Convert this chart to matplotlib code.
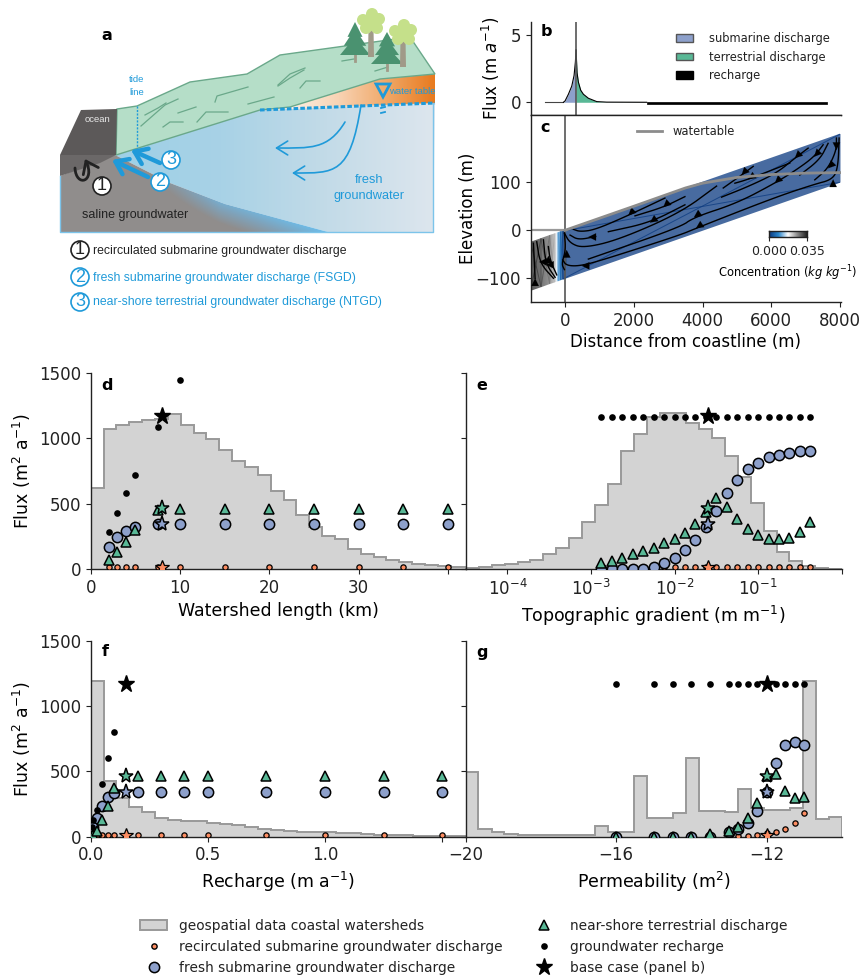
# -*- coding: utf-8 -*-
import numpy as np
import matplotlib
matplotlib.use("Agg")
import matplotlib.pyplot as plt
from matplotlib.colors import LinearSegmentedColormap
from matplotlib.lines import Line2D
from matplotlib.patches import Circle, FancyArrowPatch, Patch, PathPatch, Polygon
from matplotlib.path import Path

W, H = 862, 976
BLUE, GREEN, ORANGE = "#8da0cb", "#59b896", "#fc8d62"
SKY = "#1f9ad9"
SCHEME_FONT = ["Liberation Sans", "DejaVu Sans"]

plt.rcParams["font.size"] = 12
plt.rcParams["axes.linewidth"] = 1.0
plt.rcParams["axes.edgecolor"] = "#222222"
plt.rcParams["text.color"] = "#222222"
plt.rcParams["xtick.color"] = "#222222"
plt.rcParams["ytick.color"] = "#222222"
plt.rcParams["mathtext.default"] = "regular"

# ---- histograms of the coastal watersheds
d_edges = [0, 1.44, 2.88, 4.32, 5.76, 7.2, 8.64, 10.08, 11.52, 12.96, 14.4, 15.84, 17.28, 18.72, 20.16,
           21.6, 23.04, 24.48, 25.92, 27.36, 28.8, 30.24, 31.68, 33.12, 34.56, 36.0, 37.44, 38.88, 40.32, 42]
d_hist = [618, 1071, 1099, 1122, 1142, 1150, 1186, 1104, 1040, 994, 912, 823, 779, 721, 598,
          529, 414, 325, 256, 227, 151, 115, 89, 66, 51, 41, 33, 26, 13]

e_log_edges = [-4.5, -4.345, -4.19, -4.035, -3.88, -3.725, -3.57, -3.415, -3.26, -3.105, -2.95, -2.795,
               -2.64, -2.485, -2.33, -2.175, -2.02, -1.865, -1.71, -1.555, -1.4, -1.245, -1.09, -0.935,
               -0.78, -0.625, -0.47, -0.315, -0.16, 0]
e_hist = [5, 13, 33, 41, 51, 69, 112, 164, 235, 363, 488, 652, 900, 1035, 1163, 1191, 1191, 1117,
          1071, 1002, 866, 703, 503, 294, 133, 59, 26, 5, 0]

f_edges = [0, 0.055, 0.11, 0.165, 0.22, 0.275, 0.33, 0.385, 0.44, 0.495, 0.55, 0.605, 0.66, 0.715, 0.77,
           0.825, 0.88, 0.935, 0.99, 1.045, 1.1, 1.155, 1.21, 1.265, 1.32, 1.375, 1.43, 1.485, 1.54, 1.6]
f_hist = [1191, 429, 296, 230, 186, 140, 128, 117, 117, 107, 97, 87, 77, 59, 51, 43, 36, 36, 33, 31,
          31, 20, 15, 13, 10, 8, 6, 5, 5]

g_edges = [-20, -19.66, -19.31, -18.97, -18.62, -18.28, -17.93, -17.59, -17.24, -16.9, -16.55, -16.21,
           -15.86, -15.52, -15.17, -14.83, -14.48, -14.14, -13.79, -13.45, -13.1, -12.76, -12.41, -12.07,
           -11.72, -11.38, -11.03, -10.69, -10.34, -10]
g_hist = [497, 59, 33, 20, 15, 13, 10, 10, 10, 10, 79, 36, 36, 462, 143, 140, 179, 600, 196, 194, 191,
          367, 217, 202, 207, 222, 1191, 133, 153]

# ---- model runs, watershed length
d_len = [2, 3, 4, 5, 7.5, 10, 15, 20, 25, 30, 35, 40]
d_rech_len = [2, 3, 4, 5, 7.5, 10]
d_rech = [286, 432, 578, 723, 1084, 1449]
d_fresh = [166, 243, 291, 325, 342, 342, 342, 342, 342, 342, 342, 342]
d_terr = [69, 130, 207, 299, 455, 458, 458, 458, 458, 458, 458, 458]
d_recirc = [13, 13, 13, 13, 13, 13, 13, 13, 13, 13, 13, 13]
d_base = 8

# ---- model runs, topographic gradient
e_log_grad = [-2.875, -2.75, -2.625, -2.5, -2.375, -2.25, -2.125, -2.0, -1.875, -1.75, -1.625,
              -1.5, -1.375, -1.25, -1.125, -1.0, -0.875, -0.75, -0.625, -0.5, -0.375]
e_rech = [1166] * 21
e_fresh = [0, 0, 0, 1, 1, 13, 43, 87, 148, 225, 325, 447, 580, 682, 764, 815, 854, 869, 889, 900, 900]
e_terr = [49, 61, 84, 112, 138, 164, 197, 227, 273, 342, 440, 544, 473, 381, 304, 261, 233, 230, 240, 281, 363]
e_recirc = [13] * 21
e_base = 0.025

# ---- model runs, recharge
f_rate = [0.005, 0.01, 0.025, 0.05, 0.075, 0.1, 0.2, 0.3, 0.4, 0.5, 0.75, 1.0, 1.25, 1.5]
f_rech_rate = [0.005, 0.01, 0.025, 0.05, 0.075, 0.1]
f_rech = [77, 128, 204, 403, 604, 804]
f_fresh = [38, 77, 140, 237, 306, 332, 344, 344, 344, 344, 344, 344, 344, 344]
f_terr = [5, 13, 43, 125, 235, 370, 464, 464, 464, 464, 464, 464, 464, 464]
f_recirc = [13] * 14
f_base = 0.15

# ---- model runs, permeability
g_perm = [-16, -15, -14.5, -14, -13.5, -13, -12.75, -12.5, -12.25, -12, -11.75, -11.5, -11.25, -11]
g_rech = [1166] * 14
g_fresh = [0, 0, 0, 0, 0, 38, 59, 107, 196, 344, 561, 699, 722, 699]
g_terr = [0, 0, 0, 0, 20, 43, 77, 140, 255, 464, 480, 347, 293, 301]
g_recirc = [0, 0, 0, 0, 0, 0, 5, 8, 10, 26, 33, 59, 107, 179]
g_base = -12

base_rech, base_fresh, base_terr, base_recirc = 1168, 342, 465, 15

# ---- panel b, flux along the profile
b_line_x = [-580, -48]
b_line_y = [0, 0]
b_sub_x = [-48, 0, 97, 194, 262, 300, 320]
b_sub_y = [0, 0.1, 0.6, 1.2, 2.0, 3.0, 3.9]
b_terr_x = [320, 349, 388, 455, 533, 678, 921, 1212, 2374]
b_terr_y = [3.9, 2.2, 1.5, 0.9, 0.6, 0.3, 0.05, 0.01, 0]
b_rech_x = [2374, 7628]
b_rech_y = [-0.1, -0.1]

# ---- panel c, solute and flow field
c_x = [-1000, -700, -450, -300, -250, -200, -130, -60, 8000]
c_conc = [0.035, 0.032, 0.028, 0.023, 0.0175, 0.011, 0.006, 0.0, 0.0]
c_top = [-25, -17.5, -11, -7.5, -6, -5, -3, -1.5, 200]
c_bottom = [-125, -117.5, -111, -107.5, -106, -105, -103, -101.5, 100]
table_x = [0, 2000, 3500, 4000, 5000, 6000, 7000, 8000]
table_y = [0, 50, 88, 98, 110, 116, 119, 120]
streams = [
    [(242, 2), (436, -3), (872, 1), (1841, 31), (2907, 67)],
    [(2035, 30), (2858, 48), (3488, 70)],
    [(1260, -3), (2471, 16), (3488, 53)],
    [(145, -10), (387, -20), (891, -13)],
    [(-19, -6), (145, -27), (533, -37), (1550, -20), (3343, 36), (4409, 92)],
    [(678, -60), (3343, 6), (3750, 27), (4990, 56), (6105, 98), (6735, 126), (7248, 153), (7510, 178)],
    [(-68, -62), (48, -74), (484, -74), (1260, -58), (3343, -10), (3808, 4), (6056, 67), (7219, 95),
     (7800, 106), (7946, 133), (7975, 192)],
    [(4554, 69), (5329, 91), (6153, 119), (6686, 150), (7074, 171)],
    [(4603, 88), (5136, 115), (5475, 133)],
    [(4942, 98), (5329, 106), (6541, 140)],
    [(7267, 105), (7655, 129), (7897, 167), (7897, 192)],
    [(6831, 115), (7413, 147), (7655, 181)],
    [(-19, -6), (20, -41), (-100, -70), (-19, -82)],
    [(-921, -27), (-872, -100)],
    [(-824, -24), (-727, -69), (-339, -100)],
    [(-630, -20), (-562, -69), (-291, -98)],
    [(-485, -34), (-436, -62), (-242, -93)],
]
# arrow tail and head
stream_heads = [
    ((1900, 35), (1841, 31)), ((2920, 52), (2858, 48)), ((2530, 19), (2471, 16)), ((740, -14), (678, -14)),
    ((50, -70), (48, -41)), ((540, -74), (484, -74)), ((3870, 7), (3808, 4)), ((3810, 30), (3750, 27)),
    ((5190, 119), (5136, 115)), ((5390, 109), (5329, 106)), ((6165, 102), (6105, 98)), ((6745, 154), (6686, 150)),
    ((7300, 157), (7248, 153)), ((7897, 185), (7897, 167)), ((7710, 133), (7655, 129)), ((7800, 95), (7800, 106)),
    ((-872, -115), (-872, -100)), ((-690, -66), (-756, -66)), ((-490, -72), (-553, -72)), ((-485, -70), (-485, -53)),
]
cbar_ticks = [0.000, 0.035]

# ---- panel a, schematic outline, in figure pixels
land = [(117, 109), (137, 106), (190, 82), (247, 74), (280, 55), (410, 37), (435, 74), (380, 79), (290, 107), (260, 110), (116, 155)]
ocean = [(81, 110), (117, 109), (116, 155), (60, 155)]
sea_bed = [(60, 155), (116, 155), (100, 163), (60, 176)]
fresh_zone = [(115, 155), (260, 110), (435, 103), (433, 232), (328, 232), (225, 204), (170, 183)]
saline_zone = [(60, 176), (115, 155), (170, 183), (225, 204), (328, 232), (60, 232)]
dry_zone = [(290, 107), (380, 79), (435, 74), (435, 103), (260, 110)]
grass = [
    [(141, 126), (165, 105), (178, 99)], [(145, 115), (158, 108), (166, 103)], [(163, 127), (170, 122), (183, 122)],
    [(178, 113), (196, 107)], [(197, 122), (206, 112), (228, 112)], [(215, 102), (217, 96), (248, 87)],
    [(248, 104), (274, 97)], [(278, 85), (290, 74), (305, 68)], [(278, 86), (290, 78), (304, 70)],
    [(300, 88), (306, 81), (320, 81)], [(342, 61), (354, 59)], [(375, 71), (388, 67)],
]
firs = [(355, 22, 55, 15), (387, 32, 64, 16)]
broadleaf = [(371, 22, 57), (403, 33, 67)]


def px_axes(fig, x0, y_top, x1, y_bottom):
    return fig.add_axes([x0 / W, 1 - y_bottom / H, (x1 - x0) / W, (y_bottom - y_top) / H])


def gradient_fill(ax, poly, values, colors):
    cmap = LinearSegmentedColormap.from_list("g", colors)
    im = ax.imshow(values, extent=[0, W, H, 0], cmap=cmap, vmin=0, vmax=1, aspect="auto", zorder=1)
    patch = Polygon(poly, closed=True, transform=ax.transData)
    im.set_clip_path(patch)


def smooth(points, rounds=3):
    # corner cutting, only rounds the drawn streamline
    pts = np.array(points, dtype=float)
    for _ in range(rounds):
        q = 0.75 * pts[:-1] + 0.25 * pts[1:]
        r = 0.25 * pts[:-1] + 0.75 * pts[1:]
        mid = np.empty((2 * len(q), 2))
        mid[0::2] = q
        mid[1::2] = r
        pts = np.vstack([pts[0], mid, pts[-1]])
    return pts


def draw_schematic(ax):
    ax.set_xlim(0, W)
    ax.set_ylim(H, 0)
    ax.axis("off")
    xx, yy = np.meshgrid(np.arange(W) + 0.5, np.arange(H) + 0.5)
    gradient_fill(ax, fresh_zone, np.clip((xx - 115) / 320, 0, 1),
                  ["#9ed0e6", "#a8d2e6", "#c3dbe8", "#dde6ee"])
    depth = ((xx - 115) * -76 + (yy - 156) * 213) / 226
    mix = np.clip(1 - depth / 42, 0, 1) * np.clip((xx - 110) / 110, 0, 1)
    gradient_fill(ax, saline_zone, mix, ["#908d8c", "#908d8c", "#7fa3bb", "#6dbdea"])
    gradient_fill(ax, dry_zone, np.clip((xx - 290) / 145, 0, 1),
                  ["#fdf0e4", "#f8d3b4", "#f0a868", "#e87a1e"])
    ax.add_patch(Polygon(land, closed=True, fc="#b5dec8", ec="#6aa88a", lw=1, zorder=2))
    ax.add_patch(Polygon(ocean, closed=True, fc="#5c5959", ec="none", zorder=2))
    ax.add_patch(Polygon(sea_bed, closed=True, fc="#6b6868", ec="none", zorder=2))
    ax.plot([60, 60, 433, 433], [176, 232, 232, 103], color="#7cc4ea", lw=1, zorder=2)
    for stroke in grass:
        xs, ys = zip(*stroke)
        ax.plot(xs, ys, color="#6aa88a", lw=0.9, zorder=3)
    # trees
    for x, y0, y1, hw in firs:
        ax.plot([x, x], [y1 - 2, y1 + 6], color="#a09a88", lw=2, zorder=4)
        for a, b, w in [(0, 0.45, 0.5), (0.2, 0.72, 0.75), (0.45, 1.0, 1.0)]:
            ya, yb = y0 + a * (y1 - y0), y0 + b * (y1 - y0)
            ax.add_patch(Polygon([(x, ya), (x - hw * w, yb), (x + hw * w, yb)], fc="#4a9270", ec="none", zorder=5))
    for x, y, top in broadleaf:
        ax.add_patch(Polygon([(x - 2.5, y + 6), (x + 2.5, y + 6), (x + 3, top), (x - 3, top)], fc="#a09a88", ec="none", zorder=6))
        for dx, dy, r in [(0, 0, 9), (-8, -2, 6), (8, -3, 6), (-5, 6, 6), (6, 6, 6), (1, -8, 6)]:
            ax.add_patch(Circle((x + dx, y + dy), r, fc="#c5e08a", ec="none", zorder=6))
    # water table
    ax.plot([260, 435], [110, 103], color=SKY, lw=2.2, ls=(0, (1.5, 0.7)), zorder=4)
    ax.plot([137, 137], [106, 148], color=SKY, lw=1, ls=(0, (1.5, 1)), zorder=4)
    ax.add_patch(Polygon([(376, 84), (390, 84), (383, 97)], closed=True, fc="none", ec=SKY, lw=2, zorder=5))
    ax.plot([381, 385], [108, 107], color=SKY, lw=1.3, zorder=5)
    ax.plot([381, 385], [113, 112], color=SKY, lw=1.3, zorder=5)
    # flow paths
    for verts in ([(345, 122), (328, 150), (310, 148), (275, 148)], [(361, 105), (350, 175), (335, 173), (292, 173)]):
        curve = Path(verts, [Path.MOVETO, Path.CURVE4, Path.CURVE4, Path.CURVE4])
        ax.add_patch(FancyArrowPatch(path=curve, arrowstyle="->,head_length=8,head_width=5", color=SKY, lw=1.2, zorder=5))
    for tail, head in (((148, 177), (112, 160)), ((160, 163), (131, 150))):
        ax.annotate("", xy=head, xytext=tail, zorder=5,
                    arrowprops=dict(arrowstyle="->,head_length=0.7,head_width=0.5", color=SKY, lw=3.2, shrinkA=0, shrinkB=0))
    loop = Path([(75, 168), (76, 188), (96, 182), (85, 159)], [Path.MOVETO, Path.CURVE4, Path.CURVE4, Path.CURVE4])
    ax.add_patch(FancyArrowPatch(path=loop, arrowstyle="->,head_length=8,head_width=6", color="#222222", lw=2, zorder=5))
    # numbered circles
    for x, y, label, col in [(102, 186, "1", "#222222"), (160, 182, "2", SKY), (171, 160, "3", SKY),
                             (80, 250, "1", "#222222"), (80, 277, "2", SKY), (80, 302, "3", SKY)]:
        ax.add_patch(Circle((x, y), 9, fc="white", ec=col, lw=1.2, zorder=6))
        ax.text(x, y, label, color=col, fontsize=13, family=SCHEME_FONT, ha="center", va="center", zorder=7)
    ax.text(98, 119, "ocean", color="#e8e8e8", fontsize=6.8, family=SCHEME_FONT, ha="center", va="center", zorder=6)
    ax.text(137, 86, "tide\nline", color=SKY, fontsize=6.8, family=SCHEME_FONT, ha="center", va="center", zorder=6, linespacing=1.5)
    ax.text(135, 215, "saline groundwater", color="#222222", fontsize=9, family=SCHEME_FONT, ha="center", va="center", zorder=6)
    ax.text(369, 188, "fresh\ngroundwater", color=SKY, fontsize=9.2, family=SCHEME_FONT, ha="center", va="center", zorder=6, linespacing=1.5)
    ax.text(389, 91, "water table", color=SKY, fontsize=6.8, family=SCHEME_FONT, ha="left", va="center", zorder=6)
    ax.text(93, 251, "recirculated submarine groundwater discharge", color="#222222", fontsize=8.8, family=SCHEME_FONT, va="center", zorder=6)
    ax.text(93, 278, "fresh submarine groundwater discharge (FSGD)", color=SKY, fontsize=8.8, family=SCHEME_FONT, va="center", zorder=6)
    ax.text(93, 302, "near-shore terrestrial groundwater discharge (NTGD)", color=SKY, fontsize=8.8, family=SCHEME_FONT, va="center", zorder=6)


def draw_runs(ax, x, recirc, fresh, terr, rech_x, rech, base_x):
    ax.plot(x, recirc, "o", ms=3.8, mfc=ORANGE, mec="k", mew=0.9, zorder=3)
    ax.plot(x, fresh, "o", ms=7.4, mfc=BLUE, mec="k", mew=1.1, zorder=4)
    ax.plot(x, terr, "^", ms=7.4, mfc=GREEN, mec="k", mew=1.1, zorder=5)
    ax.plot(rech_x, rech, "o", ms=4.8, color="k", mec="none", zorder=6)
    ax.plot(base_x, base_recirc, "*", ms=10, mfc=ORANGE, mec="k", mew=0.9, zorder=7)
    ax.plot(base_x, base_fresh, "*", ms=11, mfc=BLUE, mec="k", mew=1.1, zorder=7)
    ax.plot(base_x, base_terr, "*", ms=11, mfc=GREEN, mec="k", mew=1.1, zorder=7)
    ax.plot(base_x, base_rech, "*", ms=12.5, color="k", mec="k", zorder=7)


def draw_hist(ax, edges, counts):
    ax.stairs(counts, edges, fill=True, color="#d3d3d3", zorder=1)
    ax.stairs(counts, edges, color="#999999", lw=1.4, zorder=2)


fig = plt.figure(figsize=(W / 100, H / 100), dpi=100)

ax_a = fig.add_axes([0, 0, 1, 1], zorder=-1)
draw_schematic(ax_a)

# panel b
ax_b = px_axes(fig, 530.7, 22.3, 841, 115)
ax_b.fill_between(b_sub_x, b_sub_y, color=BLUE, lw=0)
ax_b.fill_between(b_terr_x, b_terr_y, color=GREEN, lw=0)
ax_b.plot(b_line_x, b_line_y, color="#444444", lw=0.8)
ax_b.plot(b_sub_x, b_sub_y, color="k", lw=0.8)
ax_b.plot(b_terr_x, b_terr_y, color="k", lw=0.8)
ax_b.fill_between(b_rech_x, b_rech_y, color="k", lw=0.5)
ax_b.axvline(320, color="#555555", lw=1.2)
ax_b.set_xlim(-1000, 8030)
ax_b.set_ylim(-0.95, 5.97)
ax_b.set_xticks([])
ax_b.set_yticks([0, 5])
ax_b.set_ylabel("Flux (m $\\mathit{a}^{-1}$)", fontsize=12, labelpad=6)
for s in ("top", "right"):
    ax_b.spines[s].set_visible(False)
ax_b.legend(handles=[Patch(fc=BLUE, ec="#555555", label="submarine discharge"),
                     Patch(fc=GREEN, ec="#555555", label="terrestrial discharge"),
                     Patch(fc="k", ec="k", label="recharge")],
            loc="upper left", bbox_to_anchor=(676 / W, 1 - 32 / H), bbox_transform=fig.transFigure,
            frameon=False, fontsize=8.3, borderpad=0, borderaxespad=0, handlelength=1.5, handleheight=0.6,
            handletextpad=1.4, labelspacing=0.48)

# panel c
ax_c = px_axes(fig, 530.7, 115, 841, 302.3)
c_xx = np.array([c_x, c_x])
c_yy = np.array([c_bottom, c_top])
c_zz = np.array([c_conc, c_conc])
conc_cmap = LinearSegmentedColormap.from_list("conc", ["#0b3a80", "#2a86cc", "#ffffff", "#8a8a8a", "#222222"])
ax_c.pcolormesh(c_xx, c_yy, c_zz, cmap=conc_cmap, vmin=0, vmax=0.035, shading="gouraud", alpha=0.75, zorder=1)
ax_c.axvline(0, color="#555555", lw=1.2, zorder=2)
ax_c.plot([-1000, 0], [0, 0], color="#999999", lw=1.6, zorder=2)
for line in streams:
    pts = smooth(line)
    ax_c.plot(pts[:, 0], pts[:, 1], color="k", lw=1.0, zorder=3)
for tail, head in stream_heads:
    ax_c.annotate("", xy=head, xytext=tail, zorder=4,
                  arrowprops=dict(arrowstyle="-|>,head_length=0.45,head_width=0.22", color="k", lw=0.1, shrinkA=0, shrinkB=0))
ax_c.plot(table_x, table_y, color="#8c8c8c", lw=2, label="watertable", zorder=5)
ax_c.set_xlim(-1000, 8030)
ax_c.set_ylim(-150, 240)
ax_c.set_xticks([0, 2000, 4000, 6000, 8000])
ax_c.set_yticks([-100, 0, 100])
ax_c.set_xlabel("Distance from coastline (m)", fontsize=12, labelpad=2)
ax_c.set_ylabel("Elevation (m)", fontsize=12, labelpad=-1)
ax_c.spines["right"].set_visible(False)
ax_c.legend(loc="upper left", bbox_to_anchor=(637 / W, 1 - 125 / H), bbox_transform=fig.transFigure,
            frameon=False, fontsize=8.3, borderpad=0, borderaxespad=0, handlelength=2.2, handletextpad=0.9)

# colour bar of panel c
ax_cb = px_axes(fig, 769, 231, 807, 237)
ax_cb.imshow(np.linspace(0, 1, 128).reshape(1, -1), cmap=conc_cmap, aspect="auto",
             extent=[cbar_ticks[0], cbar_ticks[1], 0, 1])
ax_cb.set_yticks([])
ax_cb.set_xticks(cbar_ticks)
ax_cb.set_xticklabels(["%.3f" % t for t in cbar_ticks], fontsize=9)
ax_cb.tick_params(axis="x", length=3, pad=3)
ax_cb.set_xlabel("Concentration ($\\mathit{kg\\ kg^{-1}}$)", fontsize=8.3, labelpad=4)

# panels d to g
ax_d = px_axes(fig, 90.7, 373, 465.7, 569)
draw_hist(ax_d, d_edges, d_hist)
draw_runs(ax_d, d_len, d_recirc, d_fresh, d_terr, d_rech_len, d_rech, d_base)
ax_d.set_xlim(0, 42)
ax_d.set_xticks([0, 10, 20, 30, 40])
ax_d.set_xticklabels(["0", "10", "20", "30", ""])
ax_d.set_xlabel("Watershed length (km)", fontsize=12.5)

ax_e = px_axes(fig, 465.7, 373, 841.7, 569)
e_grad = [10 ** v for v in e_log_grad]
draw_hist(ax_e, [10 ** v for v in e_log_edges], e_hist)
draw_runs(ax_e, e_grad, e_recirc, e_fresh, e_terr, e_grad, e_rech, e_base)
ax_e.set_xscale("log")
ax_e.set_xlim(10 ** -4.5, 1)
ax_e.set_xticks([1e-4, 1e-3, 1e-2, 1e-1, 1])
ax_e.set_xticklabels(["$10^{-4}$", "$10^{-3}$", "$10^{-2}$", "$10^{-1}$", ""])
ax_e.minorticks_off()
ax_e.set_xlabel("Topographic gradient (m m$^{-1}$)", fontsize=12.5)

ax_f = px_axes(fig, 90.7, 640.7, 465.7, 836.7)
draw_hist(ax_f, f_edges, f_hist)
draw_runs(ax_f, f_rate, f_recirc, f_fresh, f_terr, f_rech_rate, f_rech, f_base)
ax_f.set_xlim(0, 1.6)
ax_f.set_xticks([0, 0.5, 1.0, 1.5])
ax_f.set_xticklabels(["0.0", "0.5", "1.0", ""])
ax_f.set_xlabel("Recharge (m a$^{-1}$)", fontsize=12.5)

ax_g = px_axes(fig, 465.7, 640.7, 841.7, 836.7)
draw_hist(ax_g, g_edges, g_hist)
draw_runs(ax_g, g_perm, g_recirc, g_fresh, g_terr, g_perm, g_rech, g_base)
ax_g.set_xlim(-20, -10)
ax_g.set_xticks([-20, -16, -12])
ax_g.set_xlabel("Permeability (m$^2$)", fontsize=12.5)

for ax in (ax_d, ax_e, ax_f, ax_g):
    ax.set_ylim(0, 1500)
    ax.set_yticks([0, 500, 1000, 1500])
    ax.patch.set_alpha(0)
    for s in ("top", "right"):
        ax.spines[s].set_visible(False)
for ax in (ax_d, ax_f):
    ax.set_ylabel("Flux (m$^2$ a$^{-1}$)", fontsize=12.5, labelpad=4)
for ax in (ax_e, ax_g):
    ax.set_yticklabels([])

for label, x, y in [("a", 107, 35), ("b", 546, 32), ("c", 545, 127), ("d", 107, 385), ("e", 482, 385),
                    ("f", 105, 652), ("g", 482, 652)]:
    fig.text(x / W, 1 - y / H, label, fontsize=11.5, fontweight="bold", color="k", ha="center", va="center")

# shared legend
handles = [
    Patch(fc="#d3d3d3", ec="#999999", lw=1.4, label="geospatial data coastal watersheds"),
    Line2D([], [], ls="", marker="o", ms=3.8, mfc=ORANGE, mec="k", label="recirculated submarine groundwater discharge"),
    Line2D([], [], ls="", marker="o", ms=7.4, mfc=BLUE, mec="k", mew=1.1, label="fresh submarine groundwater discharge"),
    Line2D([], [], ls="", marker="^", ms=7.4, mfc=GREEN, mec="k", mew=1.1, label="near-shore terrestrial discharge"),
    Line2D([], [], ls="", marker="o", ms=4.8, color="k", mec="none", label="groundwater recharge"),
    Line2D([], [], ls="", marker="*", ms=12.5, color="k", label="base case (panel b)"),
]
fig.legend(handles=handles, ncol=2, loc="upper left", bbox_to_anchor=(140 / W, 1 - 919 / H), frameon=False,
           fontsize=9.9, borderpad=0, borderaxespad=0, handlelength=2.0, handletextpad=0.85, labelspacing=0.5,
           columnspacing=2.0)

fig.savefig("out.png", dpi=100)
